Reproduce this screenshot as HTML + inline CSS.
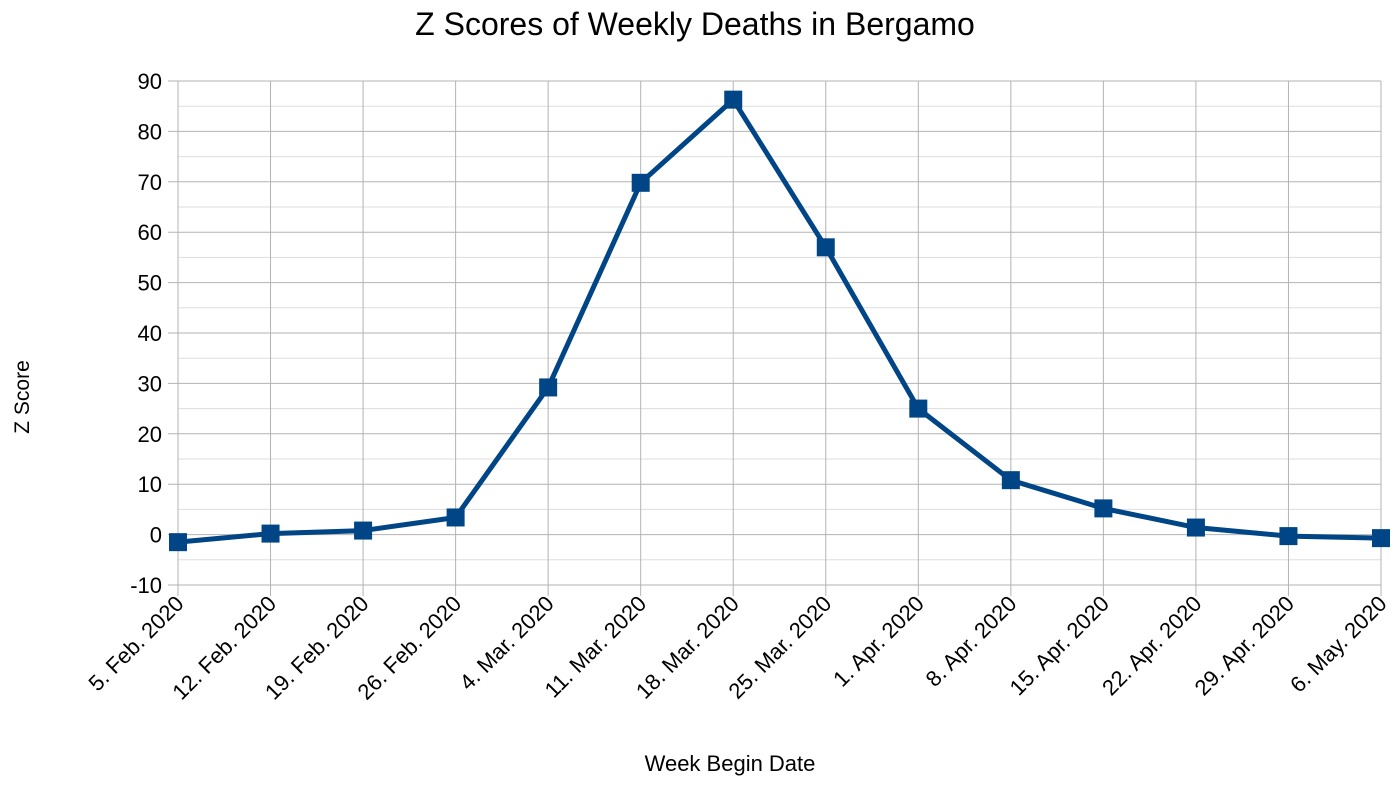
<!DOCTYPE html>
<html><head><meta charset="utf-8"><style>
body{margin:0;background:#fff;font-family:"Liberation Sans",sans-serif}
svg text{font-family:"Liberation Sans",sans-serif}
</style></head><body>
<svg id="chart" width="1397" height="787" xmlns="http://www.w3.org/2000/svg">
<rect width="1397" height="787" fill="#fff"/>
<text x="695" y="35" font-size="32" text-anchor="middle" fill="#000">Z Scores of Weekly Deaths in Bergamo</text>
<text transform="translate(29,397) rotate(-90)" font-size="21" text-anchor="middle">Z Score</text>
<text x="730" y="771" font-size="22" text-anchor="middle">Week Begin Date</text>
<g id="grid"></g><g id="axes"></g><g id="series"></g>
</svg>
<script>
const categories=["5. Feb. 2020","12. Feb. 2020","19. Feb. 2020","26. Feb. 2020","4. Mar. 2020","11. Mar. 2020","18. Mar. 2020","25. Mar. 2020","1. Apr. 2020","8. Apr. 2020","15. Apr. 2020","22. Apr. 2020","29. Apr. 2020","6. May. 2020"];
const zScores=[-1.5,0.2,0.8,3.4,29.2,69.8,86.3,57,25,10.8,5.2,1.4,-0.3,-0.7];
const yTicks=[-10,0,10,20,30,40,50,60,70,80,90];
const NS="http://www.w3.org/2000/svg";
const X0=178,X1=1381,Y0=585,Y1=81,YMIN=-10,YMAX=90;
const xs=i=>X0+(X1-X0)*i/(categories.length-1);
const ys=v=>Y0-(v-YMIN)/(YMAX-YMIN)*(Y0-Y1);
function mk(tag,attrs,parent){const e=document.createElementNS(NS,tag);for(const k in attrs)e.setAttribute(k,attrs[k]);parent.appendChild(e);return e;}
const grid=document.getElementById('grid'),axes=document.getElementById('axes'),series=document.getElementById('series');
for(let i=0;i<yTicks.length-1;i++){const v=(yTicks[i]+yTicks[i+1])/2;
 const l=mk('line',{x1:X0,x2:X1,y1:ys(v),y2:ys(v),stroke:'#dddddd','stroke-width':1},grid);
 
 }
yTicks.forEach(v=>{
 const l=mk('line',{x1:X0-10,x2:X1,y1:ys(v),y2:ys(v),stroke:'#b3b3b3','stroke-width':1},grid);
 
 
 const t=mk('text',{x:X0-16,y:ys(v)+8,'font-size':22,'text-anchor':'end'},axes);t.textContent=v;
 
 
});
categories.forEach((c,i)=>{
 const x=xs(i);
 const l=mk('line',{x1:x,x2:x,y1:Y1,y2:Y0+11,stroke:'#b3b3b3','stroke-width':1},grid);
 
 
 const t=mk('text',{transform:`translate(${x+7},${Y0+20}) rotate(-45)`,'font-size':22,'text-anchor':'end'},axes);t.textContent=c;
 
 
});
const pts=zScores.map((v,i)=>xs(i)+','+ys(v)).join(' ');
const line=mk('polyline',{points:pts,fill:'none',stroke:'#004586','stroke-width':5,'stroke-linejoin':'round'},series);


zScores.forEach((v,i)=>{
 const r=mk('rect',{x:xs(i)-9,y:ys(v)-9,width:18,height:18,fill:'#004586'},series);
 
 
});
</script>
</body></html>
